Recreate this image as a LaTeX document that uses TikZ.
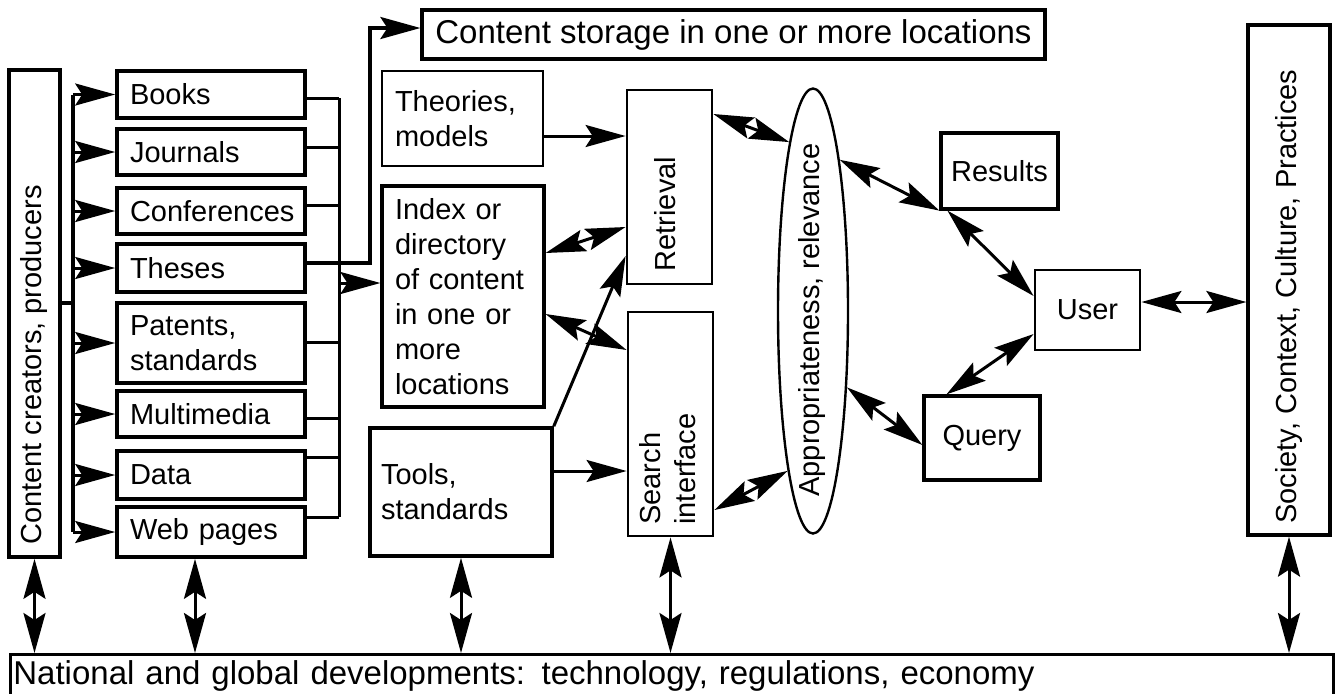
\documentclass[tikz,border=0pt]{standalone}
\usepackage{fontspec}
\setmainfont{Liberation Sans}
\usetikzlibrary{arrows.meta,shapes.geometric}
\tikzset{
  bigtip/.tip={Stealth[length=20pt 0 0,width=11pt 0 0,inset=3.5pt 0]},
}
\begin{document}
\begin{tikzpicture}[x=0.5pt,y=-0.5pt,
  lbl/.style={font=\fontsize{14.5}{17.5}\selectfont},
  big/.style={font=\fontsize{16.5}{20}\selectfont},
  box/.style={draw, line width=1.4pt, inner sep=0pt, lbl},
  listbox/.style={box, line width=1.8pt, minimum width=94pt, text width=81pt, inner xsep=6.5pt, align=left},
  bus/.style={line width=1.7pt},
  conn/.style={line width=1.5pt},
  arr/.style={line width=1.5pt, -bigtip},
  darr/.style={line width=1.5pt, bigtip-bigtip},
  rtext/.style={lbl, rotate=90, inner sep=0pt}
]
\useasboundingbox (0,0) rectangle (1338,693);
\clip (0,0) rectangle (1338,693);

% left column
\node[box, line width=1.8pt, minimum width=25.5pt, minimum height=243.5pt] (creators) at (34.5,313.5) {};
\node[rtext, anchor=west] (creatorsT) at (34,545) {Content creators, producers};

\node[listbox, minimum height=23.5pt] (books)    at (211,94.5) {Books};
\node[listbox, minimum height=23pt]   (journals) at (211,152)  {Journals};
\node[listbox, minimum height=23pt]   (conf)     at (211,211)  {Conferences};
\node[listbox, minimum height=24pt]   (theses)   at (211,268)  {Theses};
\node[listbox, minimum height=40pt]   (patents)  at (211,343)  {Patents,\\standards};
\node[listbox, minimum height=23pt]   (multi)    at (211,414)  {Multimedia};
\node[listbox, minimum height=24pt]   (data)     at (211,475)  {Data};
\node[listbox, minimum height=25pt]   (web)      at (211,532)  {Web pages};

% middle
\node[box, big, line width=1.6pt, minimum width=311.5pt, minimum height=24.5pt] (store) at (733.5,34.5) {Content storage in one or more locations};
\node[box, minimum width=80.5pt, minimum height=47.5pt, text width=67.5pt, inner xsep=6.5pt, align=left] (theories) at (462.5,118.5) {Theories,\\models};
\node[box, line width=1.6pt, minimum width=81pt, minimum height=110.5pt, text width=68pt, inner xsep=6.5pt, align=left] (index) at (463,296.5) {Index or\\directory\\of content\\in one or\\more\\locations};
\node[box, line width=1.8pt, minimum width=91pt, minimum height=64pt, text width=80pt, inner xsep=5.5pt, align=left] (tools) at (461,492) {Tools,\\standards};

\node[box, minimum width=42.5pt, minimum height=97pt] (retr) at (669.5,187) {};
\node[rtext] (retrT) at (665,214) {Retrieval};
\node[box, minimum width=42.5pt, minimum height=112pt] (search) at (670.5,424) {};
\node[rtext, anchor=west, align=left] (searchT) at (668,525) {Search\\interface};

\node[ellipse, draw, line width=1.2pt, minimum width=35pt, minimum height=222.5pt, inner sep=0pt] (app) at (813,311) {};
\node[rtext] (appT) at (812,320) {Appropriateness, relevance};

% right
\node[box, line width=1.6pt, minimum width=58.5pt, minimum height=38pt] (results) at (999.5,171) {Results};
\node[box, minimum width=52.5pt, minimum height=40pt] (user) at (1087.5,310) {User};
\node[box, line width=1.6pt, minimum width=58pt, minimum height=42pt] (query) at (982,438) {Query};
\node[box, line width=1.6pt, minimum width=41pt, minimum height=255pt] (society) at (1289,280) {};
\node[rtext, anchor=west] (societyT) at (1289,524) {Society, Context, Culture, Practices};

% bottom
\node[box, big, anchor=north west, minimum width=661.5pt, text width=658.5pt, inner xsep=1.5pt, inner ysep=3pt, align=left] (national) at (9,653) {National and global developments: technology, regulations, economy};

% left bus
\draw[bus] (73,0 |- books.west) -- (73,0 |- web.west);
\draw[bus] (creators.east |- 0,303) -- (73,303);
\foreach \n in {books,journals,conf,theses,patents,multi,data,web}
  \draw[arr] (73,0 |- \n.west) -- (\n.west);

% right bus
\draw[conn] (books.east |- 0,98) -- (339,98);
\draw[conn] (journals.east |- 0,147) -- (339,147);
\draw[conn] (conf.east |- 0,205) -- (339,205);
\draw[conn] (patents.east |- 0,342) -- (339,342);
\draw[conn] (multi.east |- 0,418) -- (339,418);
\draw[conn] (data.east |- 0,457) -- (339,457);
\draw[conn] (web.east |- 0,517) -- (339,517);
\draw[conn] (339,98) -- (339,517);
\draw[arr, line width=1.7pt] (theses.east |- 0,263) -- (370,263) -- (370,28) -- (store.west |- 0,28);
\draw[arr] (339,283) -- (index.west |- 0,283);

% middle connectors
\draw[arr] (theories.east |- 0,136) -- (retr.west |- 0,136);
\draw[darr] (index.east |- 0,253) -- (retr.west |- 0,227);
\draw[darr] (index.east |- 0,314) -- (search.west |- 0,350);
\draw[arr] (tools.north east) -- (retr.west |- 0,256);
\draw[arr] (tools.east |- 0,471) -- (search.west |- 0,471);
\draw[darr] (search.east |- 0,510) -- (app.261.5);
\draw[darr] (retr.east |- 0,114) -- (app.98.3);
\draw[darr] (app.80.1) -- (results.south west);
\draw[darr] ([xshift=4pt]results.south west) -- (user.west |- 0,296);
\draw[darr] (user.west |- 0,334) -- ([xshift=12pt]query.north west);
\draw[darr] (app.294.9) -- (query.west |- 0,445);
\draw[darr] (user.east |- 0,302) -- (society.west |- 0,302);

% vertical to national
\draw[darr] (creators.south) -- (creators.south |- national.north);
\draw[darr] (195,0 |- web.south) -- (195,0 |- national.north);
\draw[darr] (tools.south) -- (tools.south |- national.north);
\draw[darr] (search.south) -- (search.south |- national.north);
\draw[darr] (society.south) -- (society.south |- national.north);
\end{tikzpicture}
\end{document}
